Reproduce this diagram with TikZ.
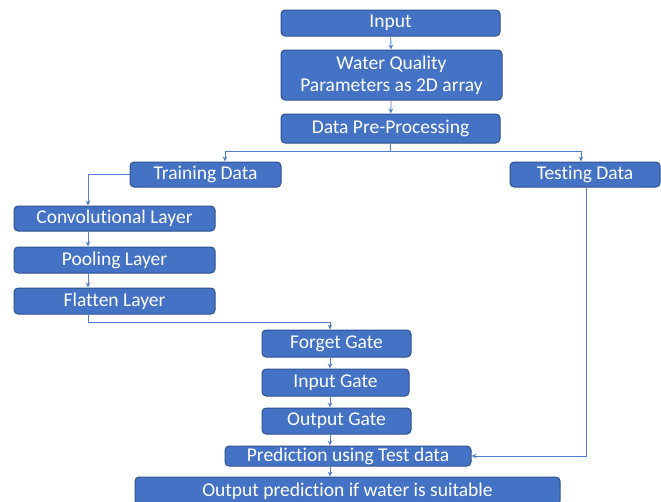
\documentclass[tikz,border=0pt]{standalone}
\usepackage{fontspec}
\setmainfont{Carlito}[Ligatures={NoCommon}]
\usetikzlibrary{arrows.meta}
\definecolor{boxfill}{RGB}{68,114,196}
\definecolor{boxedge}{RGB}{47,82,143}
\definecolor{linkblue}{RGB}{80,125,205}

\begin{document}
\begin{tikzpicture}[x=1pt,y=-1pt]
\tikzset{
  stage/.style={draw=boxedge,fill=boxfill,rounded corners=4pt,text=white,
    font=\fontsize{19.5}{22}\selectfont,inner sep=0pt,line width=1pt,align=center},
  wh/.style 2 args={minimum width=#1pt,minimum height=#2pt},
  link/.style={draw=linkblue,line width=0.8pt,-{Stealth[length=5pt,width=4.5pt]}}
}
\useasboundingbox (0,0) rectangle (661,501);
\node[stage,wh={219}{26}] (input) at (390.5,23) {Input};
\node[stage,wh={221}{50}] (wq) at (391.5,75) {Water Quality\\Parameters as 2D array};
\node[stage,wh={219}{29}] (prep) at (390.5,128.5) {Data Pre-Processing};
\node[stage,wh={151}{25}] (train) at (205.5,174.5) {Training Data};
\node[stage,wh={150}{25}] (test) at (585,174.5) {Testing Data};
\node[stage,wh={201}{25}] (conv) at (114.5,218.5) {Convolutional Layer};
\node[stage,wh={201}{26}] (pool) at (114.5,260) {Pooling Layer};
\node[stage,wh={201}{26}] (flat) at (114.5,301) {Flatten Layer};
\node[stage,wh={149}{27}] (forget) at (336.5,343.5) {Forget Gate};
\node[stage,wh={147}{27}] (ingate) at (335.5,382.5) {Input Gate};
\node[stage,wh={149}{26}] (outgate) at (336.5,421) {Output Gate};
\node[stage,wh={246}{20}] (pred) at (348,456) {Prediction using Test data};
\node[stage,wh={425}{28}] (final) at (347.5,491) {Output prediction if water is suitable};

\coordinate (split) at (390.5,151);
\coordinate (trainlane) at (225,0);
\coordinate (testinlane) at (581,0);
\coordinate (testoutlane) at (586,0);
\coordinate (cnnlane) at (88,0);
\coordinate (gatelane) at (330,0);

\draw[link] (input) -- (wq);
\draw[link] (wq) -- (prep);
\draw[link] (prep.south) -- (split) -| (train.north -| trainlane);
\draw[link] (split) -| (test.north -| testinlane);
\draw[link] (train.west) -| (conv.north -| cnnlane);
\draw[link] (conv.south -| cnnlane) -- (pool.north -| cnnlane);
\draw[link] (pool.south -| cnnlane) -- (flat.north -| cnnlane);
\draw[link] (flat.south -| cnnlane) -- ++(0,8) -| (forget.north -| gatelane);
\draw[link] (forget.south -| gatelane) -- (ingate.north -| gatelane);
\draw[link] (ingate.south -| gatelane) -- (outgate.north -| gatelane);
\draw[link] (outgate.south -| gatelane) -- (pred.north -| gatelane);
\draw[link] (pred.south -| gatelane) -- (final.north -| gatelane);
\draw[link] (test.south -| testoutlane) |- (pred.east);
\end{tikzpicture}
\end{document}
